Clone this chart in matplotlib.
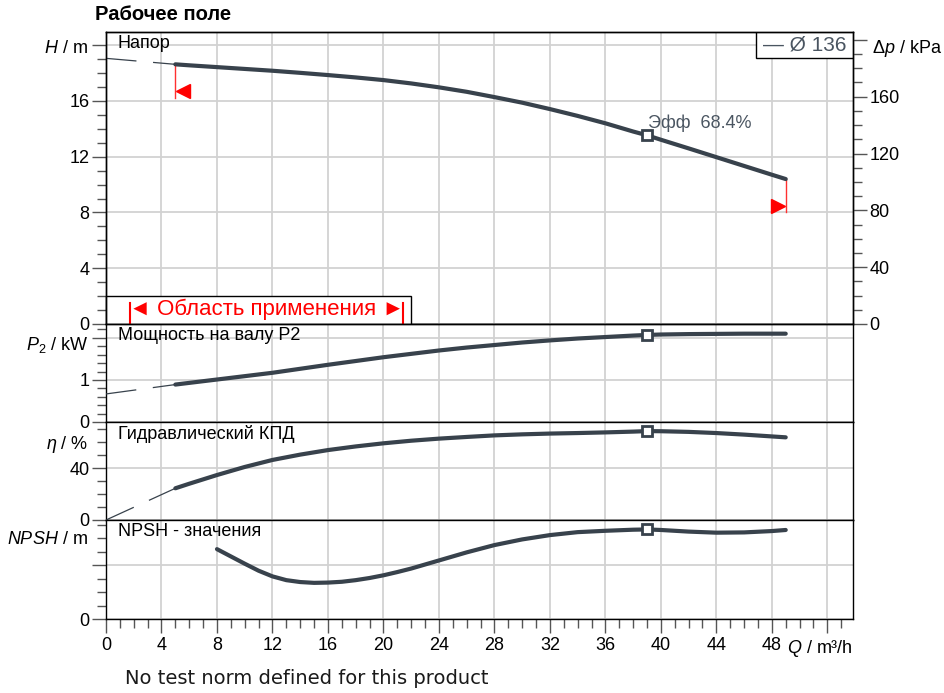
import numpy as np
import matplotlib
matplotlib.use("Agg")
import matplotlib.pyplot as plt
from matplotlib.ticker import MultipleLocator, FixedLocator
from matplotlib.patches import Rectangle

plt.rcParams["font.family"] = ["Liberation Sans", "DejaVu Sans"]
plt.rcParams["mathtext.fontset"] = "custom"
plt.rcParams["mathtext.rm"] = "Liberation Sans"
plt.rcParams["mathtext.it"] = "Liberation Sans:italic"
plt.rcParams["lines.scale_dashes"] = False

# -----------------------
# Data
# -----------------------

q = [5, 6, 8, 10, 12, 14, 16, 18, 20, 22, 24, 26, 28, 30, 32, 34, 36, 38, 39,
     40, 42, 44, 46, 48, 49]

head = [18.63, 18.56, 18.43, 18.30, 18.17, 18.02, 17.86, 17.69, 17.50, 17.26,
        16.98, 16.66, 16.28, 15.88, 15.42, 14.93, 14.40, 13.81, 13.54, 13.22,
        12.60, 11.97, 11.34, 10.71, 10.40]

power = [0.89, 0.93, 1.01, 1.09, 1.17, 1.265, 1.36, 1.45, 1.54, 1.62, 1.70,
         1.77, 1.83, 1.89, 1.94, 1.985, 2.02, 2.055, 2.07, 2.08, 2.09, 2.095,
         2.10, 2.10, 2.10]

eff = [24.4, 27.9, 34.6, 40.8, 46.2, 50.3, 53.8, 56.6, 59.0, 61.0, 62.6, 63.9,
       65.1, 65.9, 66.5, 66.9, 67.4, 68.0, 68.4, 68.3, 67.8, 66.9, 65.7, 64.3,
       63.6]

q_npsh = [8, 9, 10, 11, 12, 13, 14, 15, 16, 17, 18, 19, 20, 21, 22, 23, 24, 26,
          28, 30, 32, 34, 36, 38, 39, 40, 42, 44, 46, 48, 49]
npsh = [2.59, 2.32, 2.05, 1.79, 1.58, 1.44, 1.37, 1.34, 1.35, 1.38, 1.44, 1.52,
        1.62, 1.74, 1.87, 2.02, 2.17, 2.47, 2.74, 2.95, 3.11, 3.22, 3.27, 3.31,
        3.32, 3.30, 3.24, 3.20, 3.21, 3.26, 3.30]

# extrapolation towards Q = 0 (thin dashed)
q_ext = [0, 5]
head_ext = [19.06, 18.63]
power_ext = [0.667, 0.89]
eff_ext = [0.0, 24.4]

# duty point
q_duty = 39
head_duty = 13.54
power_duty = 2.07
eff_duty = 68.4
npsh_duty = 3.32

# operating range
q_min, q_max = 5, 49

x_ticks = list(range(0, 53, 4))
x_labels = [str(v) for v in x_ticks[:-1]] + [""]

curve_col = "#38424c"
text_col = "#4a5561"
grid_col = "#d2d2d2"
tick_col = "#555555"
fs = 13

# -----------------------
# Layout
# -----------------------

W, H = 945, 693
fig = plt.figure(figsize=(W / 100, H / 100), dpi=100)

left = 106 / W
width = (853 - 106) / W


def panel(top_px, bottom_px):
    return fig.add_axes([left, 1 - bottom_px / H, width, (bottom_px - top_px) / H])


ax_h = panel(32, 324)
ax_p = panel(324, 422)
ax_e = panel(422, 520)
ax_n = panel(520, 619)

axes = [ax_h, ax_p, ax_e, ax_n]

for ax in axes:
    ax.set_xlim(0, 53.85)
    ax.xaxis.set_major_locator(FixedLocator(x_ticks))
    ax.xaxis.set_minor_locator(MultipleLocator(1))
    ax.grid(True, which="major", color=grid_col, lw=1.3, zorder=0)
    ax.set_axisbelow(True)
    for s in ax.spines.values():
        s.set_color("black")
        s.set_linewidth(1.0)
    ax.tick_params(axis="y", which="major", length=10, width=1, color=tick_col,
                   labelsize=fs, pad=2)
    ax.tick_params(axis="y", which="minor", length=6.5, width=1, color=tick_col)
    if ax is not ax_n:
        ax.tick_params(axis="x", which="both", bottom=False, labelbottom=False)

ax_n.set_xticklabels(x_labels)
ax_n.tick_params(axis="x", which="major", length=10, width=1, color=tick_col,
                 labelsize=fs, pad=3)
ax_n.tick_params(axis="x", which="minor", length=6.5, width=1, color=tick_col)

# -----------------------
# Head
# -----------------------

ax_h.set_ylim(0, 20.95)
ax_h.yaxis.set_major_locator(FixedLocator([0, 4, 8, 12, 16, 20]))
ax_h.set_yticklabels(["0", "4", "8", "12", "16", ""])
ax_h.yaxis.set_minor_locator(MultipleLocator(1))

ax_h.plot(q_ext, head_ext, color=curve_col, lw=0.9, dashes=(22, 12), zorder=4)
ax_h.plot(q, head, color=curve_col, lw=3, solid_capstyle="round", zorder=5)
ax_h.plot(q_duty, head_duty, "s", ms=7, mfc="white", mec=curve_col, mew=2, zorder=6)
ax_h.text(q_duty + 0.1, 14.42, "Эфф  68.4%", color=text_col, fontsize=fs,
          va="center", ha="left", zorder=7)

# operating range markers
ax_h.plot([q_min, q_min], [head[0], 16.2], color="#ff3030", lw=1, zorder=4)
ax_h.plot(q_min + 0.55, 16.7, marker="<", color="red", ms=10, zorder=6)
ax_h.plot([q_max, q_max], [head[-1], 8.0], color="#ff3030", lw=1, zorder=4)
ax_h.plot(q_max - 0.55, 8.45, marker=">", color="red", ms=10, zorder=6)

# range box
ax_h.add_patch(Rectangle((0, 0), 22, 2.0, facecolor="white", edgecolor="black",
                         lw=1, zorder=3, clip_on=False))
ax_h.plot([1.75, 1.75], [0, 1.5], color="red", lw=1.5, zorder=4)
ax_h.plot([21.4, 21.4], [0, 1.5], color="red", lw=1.5, zorder=4)
ax_h.text(11.6, 1.05, "◄ Область применения ►", color="red", fontsize=16,
          ha="center", va="center", zorder=5)

# legend box
ax_h.text(0.936, 0.955, "— Ø 136", transform=ax_h.transAxes, color=text_col,
          fontsize=15, ha="center", va="center", zorder=8)
ax_h.add_patch(Rectangle((0.870, 0.911), 0.13, 0.089, transform=ax_h.transAxes,
                         facecolor="white", edgecolor="black", lw=1, zorder=7))

# right axis, pressure
ax_r = ax_h.twinx()
ax_r.set_ylim(0, 20.95 * 9.81)
ax_r.yaxis.set_major_locator(FixedLocator([0, 40, 80, 120, 160, 200]))
ax_r.set_yticklabels(["0", "40", "80", "120", "160", ""])
ax_r.yaxis.set_minor_locator(MultipleLocator(10))
ax_r.tick_params(axis="y", which="major", length=10, width=1, color=tick_col,
                 labelsize=fs, pad=2)
ax_r.tick_params(axis="y", which="minor", length=6.5, width=1, color=tick_col)
for s in ax_r.spines.values():
    s.set_linewidth(1.0)

# -----------------------
# Shaft power
# -----------------------

ax_p.set_ylim(0, 2.33)
ax_p.yaxis.set_major_locator(FixedLocator([0, 1, 2]))
ax_p.set_yticklabels(["0", "1", ""])
ax_p.yaxis.set_minor_locator(MultipleLocator(0.2))
ax_p.plot(q_ext, power_ext, color=curve_col, lw=0.9, dashes=(22, 12), zorder=4)
ax_p.plot(q, power, color=curve_col, lw=3, solid_capstyle="round", zorder=5)
ax_p.plot(q_duty, power_duty, "s", ms=7, mfc="white", mec=curve_col, mew=2, zorder=6)

# -----------------------
# Efficiency
# -----------------------

ax_e.set_ylim(0, 75.4)
ax_e.yaxis.set_major_locator(FixedLocator([0, 40]))
ax_e.set_yticklabels(["0", "40"])
ax_e.yaxis.set_minor_locator(MultipleLocator(10))
ax_e.plot(q_ext, eff_ext, color=curve_col, lw=0.9, dashes=(22, 12), zorder=4)
ax_e.plot(q, eff, color=curve_col, lw=3, solid_capstyle="round", zorder=5)
ax_e.plot(q_duty, eff_duty, "s", ms=7, mfc="white", mec=curve_col, mew=2, zorder=6)

# -----------------------
# NPSH
# -----------------------

ax_n.set_ylim(0, 3.67)
ax_n.yaxis.set_major_locator(FixedLocator([0, 2]))
ax_n.set_yticklabels(["0", ""])
ax_n.yaxis.set_minor_locator(MultipleLocator(0.5))
ax_n.plot(q_npsh, npsh, color=curve_col, lw=3, solid_capstyle="round",
          solid_joinstyle="round", zorder=5)
ax_n.plot(q_duty, npsh_duty, "s", ms=7, mfc="white", mec=curve_col, mew=2, zorder=6)

# -----------------------
# Labels
# -----------------------

panel_names = ["Напор", "Мощность на валу P2", "Гидравлический КПД", "NPSH - значения"]
unit_labels = [r"$H$ / m", r"$P_2$ / kW", r"$\eta$ / %", r"$NPSH$ / m"]
panel_px = [292, 98, 98, 99]
unit_drop = [17, 21, 23, 20]

for ax, name, unit, hp, dy in zip(axes, panel_names, unit_labels, panel_px, unit_drop):
    ax.text(0.016, 1 - 12 / hp, name, transform=ax.transAxes, fontsize=fs,
            ha="left", va="center", zorder=8)
    ax.annotate(unit, xy=(0, 1 - dy / hp), xycoords="axes fraction",
                xytext=(-13, 0), textcoords="offset points", fontsize=fs,
                ha="right", va="center")

ax_r.annotate(r"$\Delta p$ / kPa", xy=(1, 1 - 17 / 292), xycoords="axes fraction",
              xytext=(14, 0), textcoords="offset points", fontsize=fs,
              ha="left", va="center")

ax_n.annotate(r"$Q$ / m³/h", xy=(1, 0), xycoords="axes fraction",
              xytext=(0, -21), textcoords="offset points", fontsize=fs,
              ha="right", va="center")

fig.text(95 / W, 1 - 15 / H, "Рабочее поле", fontsize=14.5, fontweight="bold",
         ha="left", va="center")

fig.text(125 / W, 1 - 679 / H, "No test norm defined for this product",
         fontsize=14, family="DejaVu Sans", ha="left", va="center", color="#1a1a1a")

fig.savefig("out.png", dpi=100)
